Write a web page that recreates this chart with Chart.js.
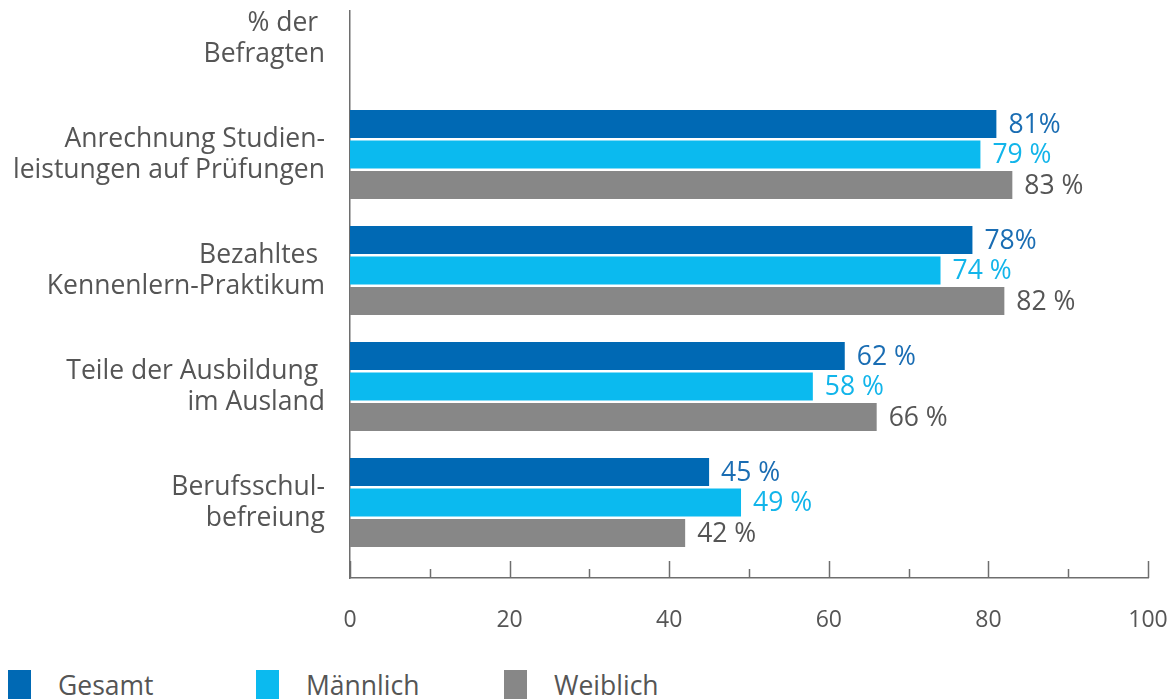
<!DOCTYPE html>
<html lang="de">
<head>
<meta charset="utf-8">
<title>Anreize Ausbildung</title>
<script src="https://cdn.jsdelivr.net/npm/chart.js@4.4.1/dist/chart.umd.min.js"></script>
<style>
    body { margin: 0; background: #fff; }
    #wrap { position: relative; width: 1176px; height: 699px; overflow: hidden; }
    #legend { position: absolute; left: 8px; top: 670px; display: flex;
              font-family: "Open Sans", sans-serif; font-size: 26.5px; color: #555; }
    #legend .item { width: 248px; display: flex; align-items: center; height: 29px; }
    #legend .box { width: 23px; height: 29px; margin-right: 27px; flex: none; }
</style>
</head>
<body>
<div id="wrap">
    <canvas id="chart" width="1176" height="652"></canvas>
    <div id="legend"></div>
</div>
<script>
// y positions: 0 = header row, 1..4 = categories
const yLabels = [
    ["% der ", "Befragten"],
    ["Anrechnung Studien-", "leistungen auf Prüfungen"],
    ["Bezahltes ", "Kennenlern-Praktikum"],
    ["Teile der Ausbildung ", "im Ausland"],
    ["Berufsschul-", "befreiung"]
];
const categoryPos = [1, 2, 3, 4];

const gesamt    = [81, 78, 62, 45];
const maennlich = [79, 74, 58, 49];
const weiblich  = [83, 82, 66, 42];

const gesamtText    = ["81%", "78%", "62 %", "45 %"];
const maennlichText = ["79 %", "74 %", "58 %", "49 %"];
const weiblichText  = ["83 %", "82 %", "66 %", "42 %"];

const xTicks = [0, 20, 40, 60, 80, 100];

const FONT = "'Open Sans', sans-serif";

function toPoints(values) {
    return values.map((v, i) => ({ x: v, y: categoryPos[i] }));
}

// value labels at the end of each bar
const valueLabels = {
    id: 'valueLabels',
    afterDatasetsDraw(chart) {
        const ctx = chart.ctx;
        ctx.save();
        ctx.font = "26.5px " + FONT;
        ctx.textBaseline = 'middle';
        ctx.textAlign = 'left';
        chart.data.datasets.forEach((ds, di) => {
            const meta = chart.getDatasetMeta(di);
            ctx.fillStyle = ds.labelColor;
            meta.data.forEach((bar, i) => {
                ctx.fillText(ds.labelText[i], bar.x + 12, bar.y + 1);
            });
        });
        ctx.restore();
    }
};

// small tick marks standing up from the x axis
const innerTicks = {
    id: 'innerTicks',
    afterDatasetsDraw(chart) {
        const ctx = chart.ctx;
        const xs = chart.scales.x;
        const bottom = chart.chartArea.bottom;
        ctx.save();
        ctx.strokeStyle = '#6e6e6e';
        ctx.lineWidth = 1.5;
        for (let v = 0; v <= 100; v += 10) {
            const px = Math.round(xs.getPixelForValue(v)) + 0.5;
            const len = v % 20 === 0 ? 17 : 9;
            ctx.beginPath();
            ctx.moveTo(px, bottom);
            ctx.lineTo(px, bottom - len);
            ctx.stroke();
        }
        ctx.restore();
    }
};

const ctx = document.getElementById('chart').getContext('2d');
const chart = new Chart(ctx, {
    type: 'bar',
    data: {
        datasets: [
            { label: 'Gesamt', data: toPoints(gesamt), backgroundColor: '#0069b4',
              labelColor: '#1a6db3', labelText: gesamtText },
            { label: 'Männlich', data: toPoints(maennlich), backgroundColor: '#0bbaef',
              labelColor: '#12b5ea', labelText: maennlichText },
            { label: 'Weiblich', data: toPoints(weiblich), backgroundColor: '#878787',
              labelColor: '#555555', labelText: weiblichText }
        ]
    },
    options: {
        indexAxis: 'y',
        responsive: false,
        animation: false,
        categoryPercentage: 0.789,
        barPercentage: 0.918,
        layout: { padding: { top: 11, right: 28, left: 0, bottom: 0 } },
        plugins: {
            legend: { display: false },
            tooltip: { enabled: false }
        },
        scales: {
            x: {
                type: 'linear',
                min: 0,
                max: 100,
                afterBuildTicks: s => { s.ticks = xTicks.map(v => ({ value: v })); },
                grid: { display: false, drawTicks: false },
                border: { display: true, color: '#6e6e6e', width: 1.5 },
                ticks: { color: '#555', font: { family: FONT, size: 23 }, padding: 29 },
                afterFit: s => {
                    s.height = 74;
                    s.paddingLeft = 0;
                    s.paddingRight = 0;
                }
            },
            y: {
                type: 'linear',
                reverse: true,
                offset: false,
                min: -0.237,
                max: 4.651,
                afterBuildTicks: s => { s.ticks = yLabels.map((l, i) => ({ value: i })); },
                grid: { display: false, drawTicks: false },
                border: { display: true, color: '#6e6e6e', width: 1.5 },
                ticks: {
                    autoSkip: false,
                    color: '#555',
                    padding: 25,
                    font: { family: FONT, size: 26.5, lineHeight: 1.17 },
                    callback: v => yLabels[v]
                },
                afterFit: s => {
                    s.width = 350;
                    s.paddingTop = 0;
                    s.paddingBottom = 0;
                }
            }
        }
    },
    plugins: [valueLabels, innerTicks]
});

// legend under the chart
const legend = document.getElementById('legend');
chart.data.datasets.forEach(ds => {
    const item = document.createElement('div');
    item.className = 'item';
    const box = document.createElement('span');
    box.className = 'box';
    box.style.background = ds.backgroundColor;
    const txt = document.createElement('span');
    txt.textContent = ds.label;
    item.appendChild(box);
    item.appendChild(txt);
    legend.appendChild(item);
});
</script>
</body>
</html>
